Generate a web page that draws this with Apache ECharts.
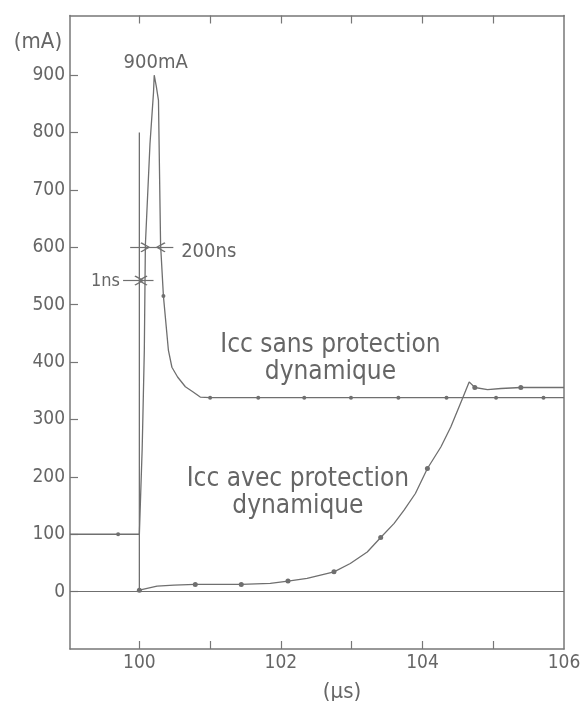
<!DOCTYPE html>
<html>
<head>
<meta charset="utf-8">
<script src="https://cdn.jsdelivr.net/npm/echarts@6/dist/echarts.min.js"></script>
<style>
html,body{margin:0;padding:0;background:#fff;}
#chart{width:584px;height:701px;}
</style>
</head>
<body>
<div id="chart"></div>
<script>
// ---- axis ticks / labels ----
const xTickValues = [100, 101, 102, 103, 104, 105];
const xLabelValues = [100, 102, 104, 106];
const yTickValues = [0, 100, 200, 300, 400, 500, 600, 700, 800, 900];

// ---- Icc sans protection dynamique (µs, mA, dot) ----
const sansTime    = [99.02, 99.7, 100.0, 100.04, 100.05, 100.07, 100.085, 100.15, 100.2, 100.21, 100.24, 100.27, 100.3, 100.34, 100.41, 100.46, 100.54, 100.65, 100.76, 100.86, 101.0, 101.68, 102.33, 102.99, 103.66, 104.34, 105.04, 105.71, 106.0];
const sansCurrent = [100,   100,  100,   250,    305,    420,    604,     780,    870,   900,    880,    856,    604,   515,    421,    391,    374,    357,    348,    339,    338,   338,    338,    338,    338,    338,    338,    338,    338];
const sansDot     = [0,     1,    0,     0,      0,      0,      0,       0,      0,     0,      0,      0,      0,     1,      0,      0,      0,      0,      0,      0,      1,     1,      1,      1,      1,      1,      1,      1,      0];

// ---- Icc avec protection dynamique ----
const avecTime    = [100.0, 100.0, 100.01, 100.25, 100.49, 100.79, 101.44, 101.85, 102.1, 102.37, 102.75, 102.98, 103.22, 103.41, 103.6, 103.74, 103.9, 104.07, 104.26, 104.4, 104.57, 104.66, 104.74, 104.92, 105.11, 105.39, 106.0];
const avecCurrent = [800,   2.6,   2.6,    9.6,    11.3,   12.5,   12.5,   14.3,   18.3,  23,     34.5,   49,     69,     94.4,   119,   142,    171,   214.6,  252,    287,   338,    365.5,  355.7,  352,    354,    355.7,  355.7];
const avecDot     = [0,     1,     0,      0,      0,      1,      1,      0,      1,     0,      1,      0,      0,      1,      0,     0,      0,     1,      0,      0,     0,      0,      1,      0,      0,      1,      0];

// ---- annotations ----
const peakLabel = '900mA';
const wideLabel = '200ns';
const narrowLabel = '1ns';
const sansLabel = 'Icc sans protection\ndynamique';
const avecLabel = 'Icc avec protection\ndynamique';
const yName = '(mA)';
const xName = '(µs)';

const GREY = '#6f6f6f';
const TXT = '#666666';
const FONT = 'DejaVu Sans Condensed';

const chevron = 'path://M0,0 L6,7 L5,8 L0,2 L-5,8 L-6,7 Z';

function build(t, c, d, size) {
  return t.map((x, i) => ({
    value: [x, c[i]],
    symbol: d[i] ? 'circle' : 'none',
    symbolSize: size
  }));
}

const chart = echarts.init(document.getElementById('chart'), null, {renderer: 'canvas'});

const axisLine = {show: true, onZero: false, lineStyle: {color: '#777', width: 1.5}};

const option = {
  animation: false,
  backgroundColor: '#fff',
  grid: {left: 70, right: 20, top: 15.5, bottom: 52, outerBoundsMode: 'none', containLabel: false},
  xAxis: [{
    type: 'value', position: 'bottom', min: 99.02, max: 106,
    axisLine: axisLine,
    axisTick: {show: true, inside: true, length: 8, customValues: xTickValues, lineStyle: {color: '#777', width: 1.2}},
    axisLabel: {show: true, customValues: xLabelValues, color: TXT, fontFamily: FONT, fontSize: 19, margin: 5},
    splitLine: {show: false}
  }, {
    type: 'value', position: 'top', min: 99.02, max: 106,
    axisLine: axisLine,
    axisTick: {show: true, inside: true, length: 8, customValues: xTickValues, lineStyle: {color: '#777', width: 1.2}},
    axisLabel: {show: false},
    splitLine: {show: false}
  }],
  yAxis: [{
    type: 'value', position: 'left', min: -100, max: 1004,
    axisLine: axisLine,
    axisTick: {show: true, inside: true, length: 8, customValues: yTickValues, lineStyle: {color: '#777', width: 1.2}},
    axisLabel: {show: true, customValues: yTickValues, color: TXT, fontFamily: FONT, fontSize: 19, margin: 5},
    splitLine: {show: false}
  }, {
    type: 'value', position: 'right', min: -100, max: 1004,
    axisLine: axisLine,
    axisTick: {show: false},
    axisLabel: {show: false},
    splitLine: {show: false}
  }],
  graphic: [
    {type: 'text', x: 38, y: 42, style: {text: yName, fill: TXT, font: '22px "DejaVu Sans Condensed"', textAlign: 'center', textVerticalAlign: 'middle'}},
    {type: 'text', x: 342, y: 692, style: {text: xName, fill: TXT, font: '22px "DejaVu Sans Condensed"', textAlign: 'center', textVerticalAlign: 'middle'}}
  ],
  series: [{
    name: 'Icc sans protection dynamique',
    type: 'line',
    xAxisIndex: 0, yAxisIndex: 0,
    data: build(sansTime, sansCurrent, sansDot, 4),
    showSymbol: true,
    symbol: 'circle',
    itemStyle: {color: GREY},
    lineStyle: {color: GREY, width: 1.3},
    z: 3,
    markLine: {
      silent: true,
      symbol: ['none', 'none'],
      symbolSize: 10,
      label: {show: false},
      lineStyle: {color: GREY, width: 1.2, type: 'solid'},
      data: [
        [{yAxis: 0, x: 70, symbol: 'none'}, {yAxis: 0, x: 564, symbol: 'none'}],
        [{coord: [99.87, 600], symbol: 'none'}, {coord: [100.085, 600], symbol: chevron}],
        [{coord: [100.085, 600], symbol: 'none'}, {coord: [100.3, 600], symbol: 'none'}],
        [{coord: [100.48, 600], symbol: 'none'}, {coord: [100.3, 600], symbol: chevron}],
        [{coord: [99.77, 542], symbol: 'none'}, {coord: [100.0, 542], symbol: chevron}],
        [{coord: [100.0, 542], symbol: 'none'}, {coord: [100.045, 542], symbol: 'none'}],
        [{coord: [100.2, 542], symbol: 'none'}, {coord: [100.045, 542], symbol: chevron}]
      ]
    },
    markPoint: {
      silent: true,
      symbol: 'circle',
      symbolSize: 0,
      label: {show: true, position: 'inside', color: TXT, fontFamily: FONT},
      data: [
        {coord: [100.23, 922], label: {formatter: peakLabel, fontSize: 20}},
        {coord: [100.98, 593], label: {formatter: wideLabel, fontSize: 20}},
        {coord: [99.52, 541], label: {formatter: narrowLabel, fontSize: 18}},
        {coord: [102.70, 406], label: {formatter: sansLabel, fontSize: 26, lineHeight: 27, align: 'center'}},
        {coord: [102.24, 171.6], label: {formatter: avecLabel, fontSize: 26, lineHeight: 27, align: 'center'}}
      ]
    }
  }, {
    name: 'Icc avec protection dynamique',
    type: 'line',
    xAxisIndex: 0, yAxisIndex: 0,
    data: build(avecTime, avecCurrent, avecDot, 5),
    showSymbol: true,
    symbol: 'circle',
    itemStyle: {color: GREY},
    lineStyle: {color: GREY, width: 1.3},
    z: 3
  }]
};

chart.setOption(option);
</script>
</body>
</html>
